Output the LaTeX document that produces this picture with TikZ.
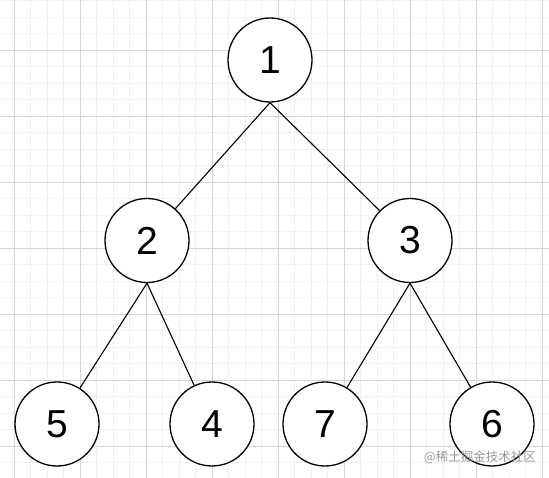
\documentclass[tikz,border=0pt]{standalone}
\usepackage{fontspec}
\setmainfont{Liberation Sans}
\newfontfamily\cjk{Noto Sans CJK SC}
\begin{document}
\begin{tikzpicture}[x=1pt,y=-1pt,
  tnode/.style={circle,draw=black,line width=1.3pt,fill=white,minimum size=84pt,inner sep=0pt,font=\fontsize{39}{39}\selectfont},
  edge/.style={draw=black,line width=1.1pt}]
\fill[white] (0,0) rectangle (549,478);
\useasboundingbox (0,0) rectangle (549,478);
% minor grid
\foreach \i in {0,...,33} {
  \draw[color=black!6,line width=0.8pt] ({14+16.5*(\i-1)},0) -- ({14+16.5*(\i-1)},478);
}
\foreach \i in {0,...,30} {
  \draw[color=black!6,line width=0.8pt] (0,{0.5+16.5*\i}) -- (549,{0.5+16.5*\i});
}
% major grid
\foreach \i in {0,...,8} {
  \draw[color=black!17,line width=0.8pt] ({14+66*\i},0) -- ({14+66*\i},478);
}
\foreach \i in {0,...,6} {
  \draw[color=black!17,line width=0.8pt] (0,{50+66*\i}) -- (549,{50+66*\i});
}
\node[tnode] (n1) at (270,60) {1};
\node[tnode] (n2) at (147,240.5) {2};
\node[tnode] (n3) at (410,240.5) {3};
\node[tnode] (n5) at (57,424) {5};
\node[tnode] (n4) at (212,424) {4};
\node[tnode] (n7) at (325,424) {7};
\node[tnode] (n6) at (492,424) {6};
\draw[edge] (n1.south) -- (n2);
\draw[edge] (n1.south) -- (n3);
\draw[edge] (n2.south) -- (n5);
\draw[edge] (n2.south) -- (n4);
\draw[edge] (n3.south) -- (n7);
\draw[edge] (n3.south) -- (n6);
\node[font=\cjk\fontsize{12.5}{12.5}\selectfont,text=black!40,anchor=east,inner sep=0pt] (wm) at (536,457) {@稀土掘金技术社区};
\end{tikzpicture}
\end{document}
